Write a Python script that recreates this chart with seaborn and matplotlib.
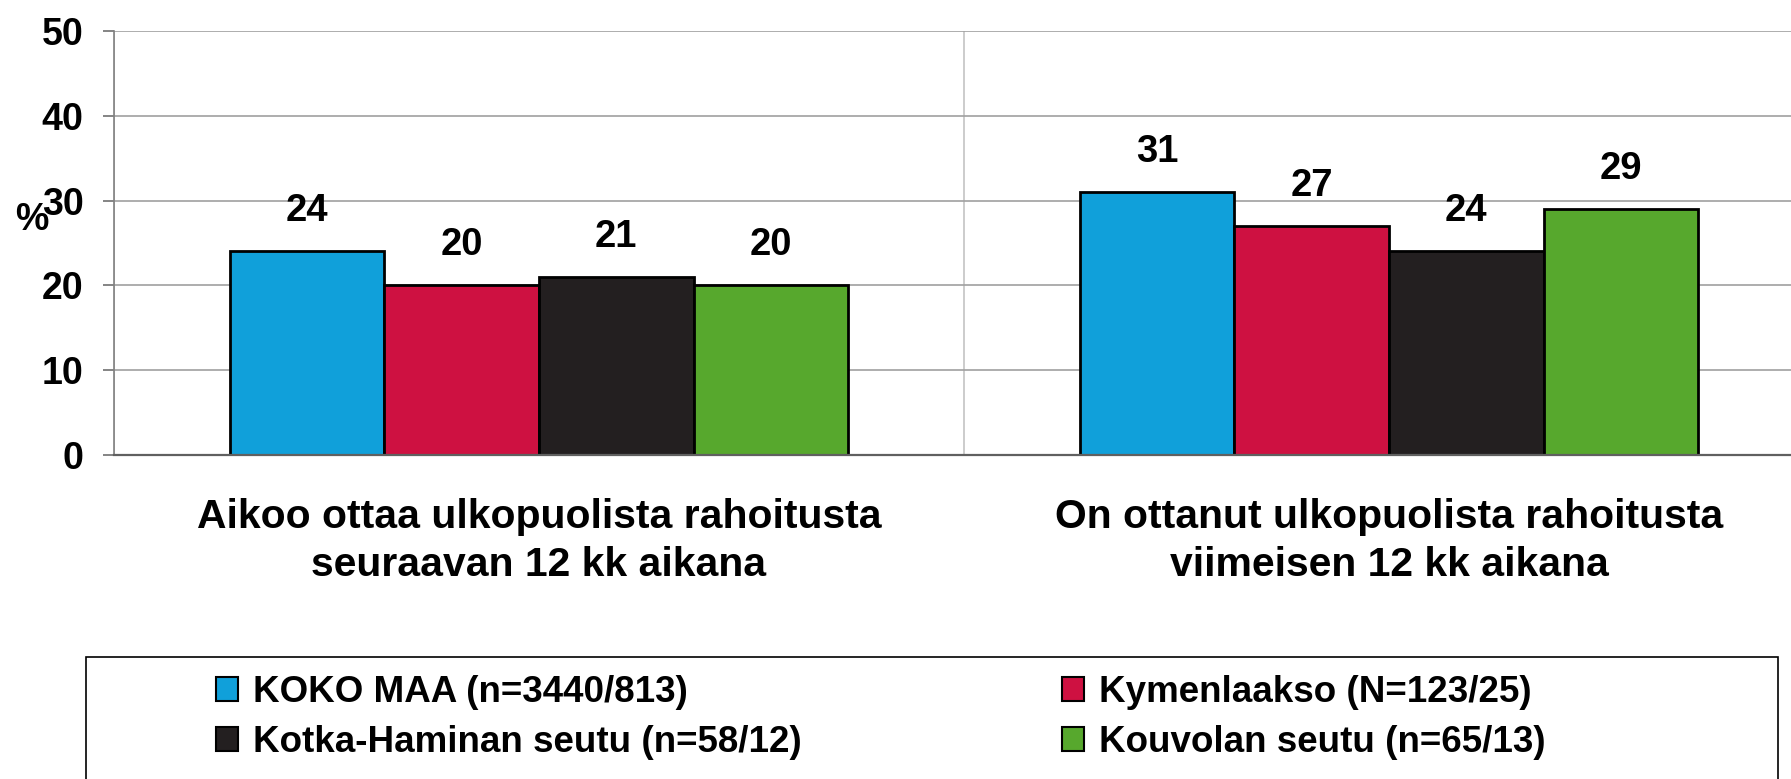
import pandas as pd
import numpy as np
import matplotlib
matplotlib.use("Agg")
import matplotlib.pyplot as plt
from matplotlib.patches import Rectangle
import seaborn as sns

# Data
categories = [
    "Aikoo ottaa ulkopuolista rahoitusta\nseuraavan 12 kk aikana",
    "On ottanut ulkopuolista rahoitusta\nviimeisen 12 kk aikana",
]
regions = [
    "KOKO MAA (n=3440/813)",
    "Kymenlaakso (N=123/25)",
    "Kotka-Haminan seutu (n=58/12)",
    "Kouvolan seutu (n=65/13)",
]
koko_maa = [24, 31]
kymenlaakso = [20, 27]
kotka_hamina = [21, 24]
kouvola = [20, 29]
colors = ["#10A0DA", "#CE1141", "#231F20", "#57A82D"]

rows = []
for reg, vals in zip(regions, [koko_maa, kymenlaakso, kotka_hamina, kouvola]):
    for cat, v in zip(categories, vals):
        rows.append({"category": cat, "region": reg, "value": v})
df = pd.DataFrame(rows)

sns.set_style("white")
plt.rcParams["font.family"] = ["Liberation Sans", "DejaVu Sans"]
plt.rcParams["font.weight"] = "bold"
plt.rcParams["text.color"] = "black"
plt.rcParams["axes.labelcolor"] = "black"

W, H = 1791, 779
fig = plt.figure(figsize=(W / 100, H / 100), dpi=100)
ax = fig.add_axes([114 / W, (H - 455) / H, 1 - 114 / W, (455 - 31) / H])

sns.barplot(data=df, x="category", y="value", hue="region", order=categories,
            hue_order=regions, palette=colors, width=0.728, gap=0,
            edgecolor="black", linewidth=2, saturation=1, ax=ax)

for cont in ax.containers:
    ax.bar_label(cont, padding=16, fontsize=27.5, fontweight="bold", color="black")

ax.set_ylim(0, 50)
ax.set_yticks(range(0, 51, 10))
ax.set_xlim(-0.5, 1.473)
ax.set_xticks([0, 1])
ax.set_xticklabels(categories, fontsize=29.4, fontweight="bold", linespacing=1.32)
ax.set_xticks([-0.5, 0.5], minor=True)
ax.tick_params(axis="x", which="major", length=0, pad=31, labelcolor="black")
ax.tick_params(axis="x", which="minor", length=8.6, width=1.2, color="#707070", direction="out")
ax.tick_params(axis="y", length=8, width=1.2, color="#707070", direction="out",
               labelsize=27, pad=14, left=True, labelcolor="black")
for lab in ax.get_yticklabels():
    lab.set_fontweight("bold")

ax.grid(axis="y", color="#a0a0a0", linewidth=1.2)
ax.grid(axis="x", which="minor", color="#c4c4c4", linewidth=1.2)
ax.set_axisbelow(True)

for s in ["top", "right"]:
    ax.spines[s].set_visible(False)
ax.spines["left"].set_color("#808080")
ax.spines["left"].set_linewidth(1.2)
ax.spines["bottom"].set_color("#606060")
ax.spines["bottom"].set_linewidth(1.6)

ax.set_xlabel("")
ax.set_ylabel("%", rotation=0, fontsize=27, fontweight="bold", ha="center", va="center")
ax.yaxis.set_label_coords((32 - 114) / (W - 114), (455 - 220) / 424)

# legend: two columns, row-wise order, with a frame cut off at the bottom
handles, labels = ax.get_legend_handles_labels()
ax.get_legend().remove()
leg_kw = dict(frameon=False, handlelength=0.6, handleheight=0.62,
              handletextpad=0.4, labelspacing=0.41, borderpad=0, borderaxespad=0,
              loc="upper left", bbox_transform=fig.transFigure, labelcolor="black",
              prop={"weight": "bold", "size": 26.5})
leg1 = ax.legend([handles[0], handles[2]], [labels[0], labels[2]],
                 bbox_to_anchor=(216 / W, 1 - 675 / H), **leg_kw)
ax.add_artist(leg1)
leg2 = ax.legend([handles[1], handles[3]], [labels[1], labels[3]],
                 bbox_to_anchor=(1062 / W, 1 - 675 / H), **leg_kw)
for leg in (leg1, leg2):
    for h in leg.legend_handles:
        h.set_edgecolor("black")
        h.set_linewidth(1.5)

fig.patches.append(Rectangle((86 / W, -0.05), (1778 - 86) / W, (H - 657) / H + 0.05,
                             transform=fig.transFigure, fill=False,
                             edgecolor="black", linewidth=1.2))

fig.savefig("out.png", dpi=100)
